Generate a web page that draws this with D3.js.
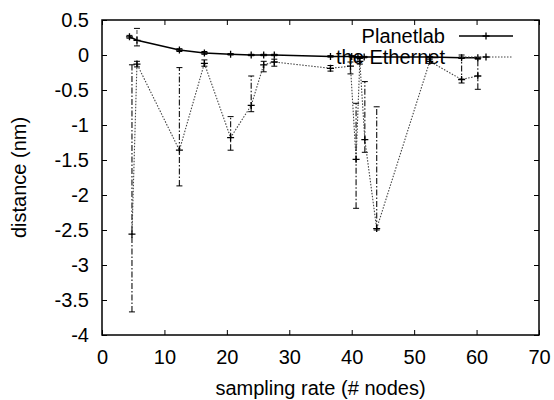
<!DOCTYPE html>
<html>
<head>
<meta charset="utf-8">
<script src="https://cdn.jsdelivr.net/npm/d3@7"></script>
<style>
  body { margin: 0; background: #fff; }
  svg { font-family: "Liberation Sans", Arial, sans-serif; }
</style>
</head>
<body>
<div class="main"></div>
<script>
// Planetlab series
const planetX  = [4.4, 5.6, 12.4, 16.4, 20.6, 23.9, 25.9, 27.6, 36.6, 40.0, 41.0, 42.0, 52.5, 57.6, 60.2];
const planetY  = [0.26, 0.21, 0.07, 0.03, 0.01, 0.0, 0.0, 0.0, -0.02, -0.02, -0.03, -0.03, -0.03, -0.04, -0.04];
const planetLo = [0.24, 0.13, 0.05, 0.01, 0.0, -0.01, -0.01, -0.01, -0.03, -0.03, -0.04, -0.04, -0.04, -0.05, -0.05];
const planetHi = [0.28, 0.38, 0.09, 0.05, 0.02, 0.01, 0.01, 0.01, -0.01, -0.01, -0.02, -0.02, -0.02, -0.03, -0.03];

// the Ethernet series
const etherX  = [4.8, 5.6, 12.4, 16.4, 20.6, 23.9, 25.9, 27.6, 36.6, 39.8, 40.7, 41.3, 42.1, 44.0, 52.5, 57.6, 60.2];
const etherY  = [-2.56, -0.13, -1.36, -0.12, -1.18, -0.72, -0.14, -0.1, -0.19, -0.16, -1.49, -0.09, -1.21, -2.48, -0.09, -0.35, -0.3];
const etherLo = [-3.67, -0.17, -1.87, -0.16, -1.36, -0.81, -0.24, -0.16, -0.23, -0.27, -2.19, -0.13, -1.39, -2.5, -0.12, -0.4, -0.49];
const etherHi = [-0.14, -0.09, -0.18, -0.07, -0.88, -0.3, -0.09, -0.06, -0.15, -0.1, -0.69, -0.05, -0.38, -0.74, -0.06, 0.0, -0.06];

const xTicks = [0, 10, 20, 30, 40, 50, 60, 70];
const yTicks = [0.5, 0, -0.5, -1, -1.5, -2, -2.5, -3, -3.5, -4];
const seriesNames = ['Planetlab', 'the Ethernet'];

let width = 554, height = 400;
let margin = {top: 20, right: 15, bottom: 65, left: 102};

let svg = d3.select('.main').append('svg')
  .attr('width', width)
  .attr('height', height);

let x = d3.scaleLinear().domain([0, 70]).range([margin.left, width - margin.right]);
let y = d3.scaleLinear().domain([-4, 0.5]).range([height - margin.bottom, margin.top]);

let fmt = d => String(d);

// axes, ticks pointing inward on all four sides
svg.append('g')
  .attr('transform', `translate(0,${y(-4)})`)
  .call(d3.axisBottom(x).tickValues(xTicks).tickFormat(fmt).tickSize(-5).tickSizeOuter(0).tickPadding(15));
svg.append('g')
  .attr('transform', `translate(0,${y(0.5)})`)
  .call(d3.axisTop(x).tickValues(xTicks).tickFormat('').tickSize(-5).tickSizeOuter(0));
svg.append('g')
  .attr('transform', `translate(${x(0)},0)`)
  .call(d3.axisLeft(y).tickValues(yTicks).tickFormat(fmt).tickSize(-5).tickSizeOuter(0).tickPadding(13));
svg.append('g')
  .attr('transform', `translate(${x(70)},0)`)
  .call(d3.axisRight(y).tickValues(yTicks).tickFormat('').tickSize(-5).tickSizeOuter(0));

svg.selectAll('.domain').remove();
svg.selectAll('.tick line').attr('stroke', '#000').attr('stroke-width', 1);
svg.selectAll('.tick text').attr('font-size', 20).attr('fill', '#000')
  .attr('font-family', '"Liberation Sans", Arial, sans-serif');

svg.append('rect')
  .attr('x', x(0)).attr('y', y(0.5))
  .attr('width', x(70) - x(0)).attr('height', y(-4) - y(0.5))
  .attr('fill', 'none').attr('stroke', '#000').attr('stroke-width', 1.5);

// axis titles
svg.append('text')
  .attr('x', (x(0) + x(70)) / 2).attr('y', 395)
  .attr('text-anchor', 'middle').attr('font-size', 20)
  .text('sampling rate (# nodes)');
svg.append('text')
  .attr('transform', `translate(26,${(y(0.5) + y(-4)) / 2}) rotate(-90)`)
  .attr('text-anchor', 'middle').attr('font-size', 20)
  .text('distance (nm)');

function drawSeries(xs, ys, lo, hi, lineStyle, barStyle) {
  let pts = xs.map((v, i) => ({x: v, y: ys[i], lo: lo[i], hi: hi[i]}));
  let g = svg.append('g');

  // error bars
  g.selectAll('line.bar').data(pts).enter().append('line')
    .attr('class', 'bar')
    .attr('x1', d => x(d.x)).attr('x2', d => x(d.x))
    .attr('y1', d => y(d.lo)).attr('y2', d => y(d.hi))
    .attr('stroke', barStyle.color).attr('stroke-width', barStyle.width)
    .attr('stroke-dasharray', barStyle.dash);
  ['lo', 'hi'].forEach(k => {
    g.selectAll('line.cap' + k).data(pts).enter().append('line')
      .attr('x1', d => x(d.x) - 3).attr('x2', d => x(d.x) + 3)
      .attr('y1', d => y(d[k])).attr('y2', d => y(d[k]))
      .attr('stroke', '#000').attr('stroke-width', 1);
  });

  // line
  g.append('path')
    .datum(pts)
    .attr('d', d3.line().x(d => x(d.x)).y(d => y(d.y)))
    .attr('fill', 'none')
    .attr('stroke', lineStyle.color).attr('stroke-width', lineStyle.width)
    .attr('stroke-dasharray', lineStyle.dash);

  // + markers
  g.selectAll('path.mark').data(pts).enter().append('path')
    .attr('d', d => `M${x(d.x) - 3.5},${y(d.y)}h7M${x(d.x)},${y(d.y) - 3.5}v7`)
    .attr('stroke', '#000').attr('stroke-width', 1.3);
}

const lineStyles = [
  {color: '#000', width: 1.5, dash: null},
  {color: '#444', width: 1.1, dash: '1.5,1.5'}
];
const barStyles = [
  {color: '#666', width: 1.2, dash: '4,2'},
  {color: '#222', width: 1.2, dash: '6,2,1.5,2'}
];

drawSeries(etherX, etherY, etherLo, etherHi, lineStyles[1], barStyles[1]);
drawSeries(planetX, planetY, planetLo, planetHi, lineStyles[0], barStyles[0]);

// legend
seriesNames.forEach((name, i) => {
  let ly = 36 + i * 21;
  svg.append('text')
    .attr('x', 445).attr('y', ly).attr('dy', '0.35em')
    .attr('text-anchor', 'end').attr('font-size', 20)
    .text(name);
  svg.append('line')
    .attr('x1', 459).attr('x2', 513).attr('y1', ly).attr('y2', ly)
    .attr('stroke', lineStyles[i].color).attr('stroke-width', lineStyles[i].width)
    .attr('stroke-dasharray', lineStyles[i].dash);
  svg.append('path')
    .attr('d', `M${486 - 3.5},${ly}h7M486,${ly - 3.5}v7`)
    .attr('stroke', '#000').attr('stroke-width', 1.3);
});
</script>
</body>
</html>
